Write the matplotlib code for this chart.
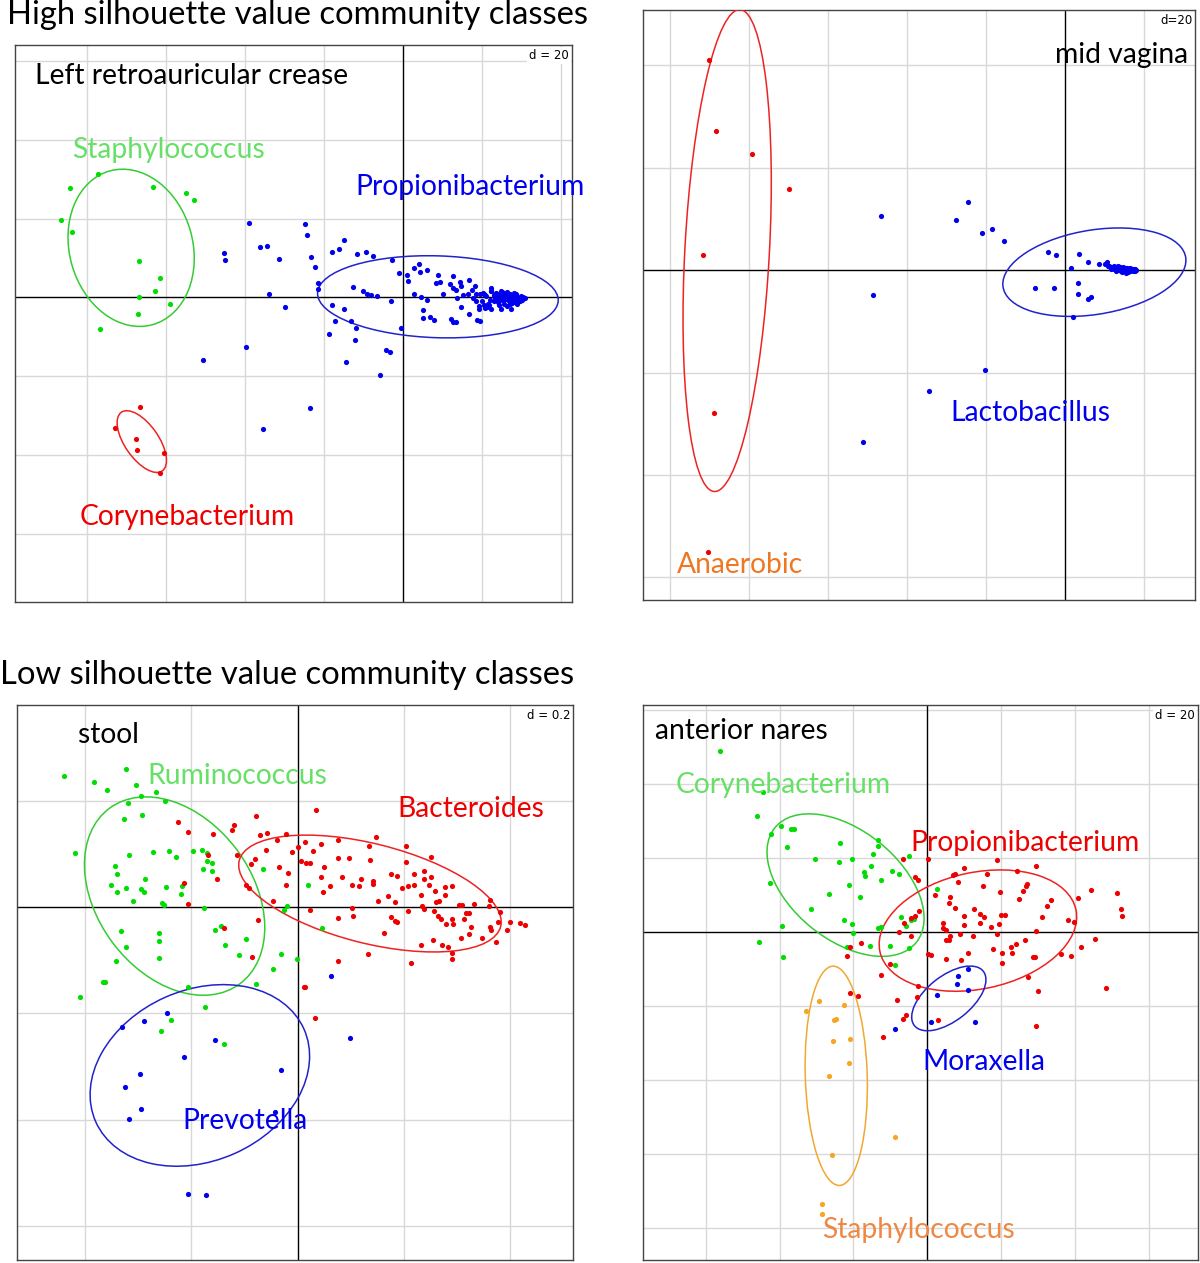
import numpy as np
import matplotlib
matplotlib.use('Agg')
import matplotlib.pyplot as plt
from matplotlib.patches import Ellipse

# Coordinates are in grid units (one grid cell = d)

# Left retroauricular crease (d = 20)
rac_staph = [(-4.21, 1.39), (-3.86, 1.56), (-3.16, 1.40), (-2.74, 1.32), (-2.64, 1.23),
             (-4.33, 0.98), (-4.19, 0.83), (-3.34, 0.46), (-3.08, 0.25), (-3.14, 0.08),
             (-3.34, 0.00), (-2.95, -0.08), (-3.35, -0.21), (-3.83, -0.40)]
rac_coryne = [(-3.33, -1.39), (-3.65, -1.65), (-3.38, -1.80), (-3.37, -1.93),
              (-3.03, -1.97), (-3.07, -2.22)]
rac_propi = [(-1.95, 0.94), (-2.27, 0.56), (-2.25, 0.48), (-1.81, 0.64), (-1.72, 0.65),
             (-1.57, 0.49), (-1.69, 0.05), (-1.49, -0.12), (-1.99, -0.63), (-2.53, -0.79),
             (-1.77, -1.67), (-1.24, 0.93), (-1.21, 0.79), (-1.16, 0.51), (-1.11, 0.38),
             (-1.07, 0.18), (-1.08, 0.11), (-0.90, 0.58), (-0.81, 0.62), (-0.75, 0.73),
             (-0.58, 0.55), (-0.47, 0.57), (-0.38, 0.53), (-0.14, 0.48), (-0.05, 0.31),
             (0.05, 0.28), (0.07, 0.21), (0.14, 0.37), (0.21, 0.32), (0.20, 0.43),
             (0.30, 0.35), (-0.63, 0.13), (-0.51, 0.08), (-0.46, 0.05), (-0.41, 0.03),
             (-0.33, 0.02), (-0.15, -0.05), (-0.90, -0.09), (-0.75, -0.15), (-0.86, -0.30),
             (-0.66, -0.30), (-0.59, -0.39), (-0.94, -0.46), (-0.61, -0.54), (-0.21, -0.66),
             (-0.16, -0.69), (-0.72, -0.82), (-0.29, -0.98), (-0.02, -0.39), (-1.18, -1.40),
             (0.14, 0.05), (0.23, 0.00), (0.31, -0.03), (0.25, -0.16), (0.25, -0.26),
             (0.34, -0.25), (0.39, -0.28), (0.44, 0.28), (0.42, 0.18), (0.47, 0.20),
             (0.51, 0.05), (0.63, 0.27), (0.60, 0.17), (0.64, 0.12), (0.67, 0.09),
             (0.69, -0.01), (0.72, 0.20), (0.73, 0.15), (0.84, 0.22), (0.91, 0.15),
             (0.87, 0.10), (0.76, 0.03), (0.82, 0.05), (0.73, -0.12), (0.84, -0.21),
             (0.61, -0.27), (0.64, -0.31), (0.67, -0.31), (0.94, -0.29), (0.98, -0.30),
             (0.89, -0.01), (0.93, 0.05), (0.97, 0.05), (1.01, 0.06), (1.04, 0.03),
             (0.92, -0.04), (0.96, -0.11), (1.03, -0.10), (1.07, -0.12), (1.11, -0.15),
             (1.09, -0.09), (0.96, -0.14), (1.11, 0.12), (1.12, 0.08), (1.17, 0.00),
             (1.19, 0.04), (1.24, 0.08), (1.25, 0.03), (1.28, 0.06), (1.32, 0.07),
             (1.36, 0.04), (1.41, 0.03), (1.45, 0.01), (1.49, -0.01), (1.55, -0.01),
             (1.31, 0.00), (1.35, -0.04), (1.39, -0.06), (1.43, -0.05), (1.47, -0.03),
             (1.36, -0.08), (1.22, -0.05), (1.24, -0.15), (1.37, -0.14), (1.15, -0.05),
             (1.04, -0.13), (1.02, 0.05), (1.20, -0.01), (1.27, -0.03), (1.41, -0.01),
             (1.51, -0.03)]
# samples hidden under the dense dots at the right end
rac_propi_dense = [(1.05, 0.02), (1.10, -0.03), (1.15, 0.03), (1.20, -0.06), (1.25, 0.01),
                   (1.30, -0.02), (1.35, 0.02), (1.40, -0.03), (1.45, 0.00), (1.50, 0.02),
                   (1.28, -0.08), (1.33, 0.05), (1.38, -0.07), (1.18, 0.06), (1.08, -0.08),
                   (1.43, 0.04), (1.48, -0.05), (1.22, -0.10), (1.12, 0.08), (1.32, -0.11),
                   (1.26, 0.07), (1.36, -0.01), (1.41, 0.06), (1.46, -0.02), (1.16, -0.01),
                   (1.21, 0.03), (1.30, 0.04), (1.34, -0.05), (1.39, 0.01), (1.44, -0.08),
                   (1.52, 0.00), (1.00, -0.04)]

# Mid vagina (d = 20)
vag_anaer = [(-4.51, 2.05), (-4.42, 1.36), (-3.96, 1.13), (-3.49, 0.79), (-4.58, 0.15),
             (-4.44, -1.39), (-4.52, -2.75)]
vag_lacto = [(-2.33, 0.53), (-2.43, -0.24), (-2.56, -1.68), (-1.22, 0.67), (-1.38, 0.49),
             (-1.05, 0.36), (-0.92, 0.40), (-0.77, 0.28), (-1.01, -0.97), (-1.72, -1.18),
             (-0.21, 0.18), (-0.11, 0.15), (0.18, 0.16), (0.08, 0.02), (0.30, 0.08),
             (0.43, 0.06), (0.53, 0.08), (-0.38, -0.17), (-0.14, -0.17), (0.17, -0.13),
             (0.17, -0.23), (0.30, -0.28), (0.33, -0.26), (0.10, -0.46),
             (0.51, 0.06), (0.56, 0.04), (0.59, 0.03), (0.62, 0.03), (0.65, 0.03),
             (0.68, 0.02), (0.70, 0.03), (0.73, 0.01), (0.77, 0.01), (0.80, 0.01),
             (0.83, 0.01), (0.86, 0.00), (0.89, 0.01), (0.59, 0.01), (0.72, 0.00),
             (0.78, -0.03), (0.82, -0.01), (0.76, -0.01)]
# samples stacked under the Lactobacillus-dominated cluster
vag_lacto_dense = [(0.55, 0.04), (0.58, 0.03), (0.60, 0.02), (0.62, 0.04), (0.64, 0.02),
                   (0.66, 0.03), (0.67, 0.01), (0.69, 0.02), (0.70, 0.00), (0.71, 0.02),
                   (0.72, 0.01), (0.73, 0.02), (0.74, 0.00), (0.75, 0.01), (0.76, 0.02),
                   (0.77, 0.00), (0.78, 0.01), (0.79, -0.01), (0.80, 0.00), (0.81, 0.01),
                   (0.82, 0.00), (0.83, -0.01), (0.84, 0.00), (0.85, 0.01), (0.86, -0.01),
                   (0.87, 0.00), (0.88, 0.00), (0.89, -0.01), (0.90, 0.00), (0.63, 0.01),
                   (0.68, 0.04), (0.71, -0.01), (0.74, 0.03), (0.77, 0.02), (0.80, -0.02),
                   (0.83, 0.02), (0.86, 0.01), (0.65, -0.01), (0.69, 0.00), (0.73, -0.02),
                   (0.76, 0.00), (0.79, 0.02), (0.81, -0.01), (0.84, 0.01)]

# Stool (d = 0.2)
st_rumino = [(-2.20, 1.23), (-1.92, 1.18), (-1.79, 1.10), (-1.61, 1.30), (-1.52, 1.15),
             (-1.47, 1.04), (-1.33, 1.08), (-1.25, 1.00), (-1.60, 0.98), (-1.63, 0.83),
             (-1.46, 0.87), (-2.09, 0.51), (-1.59, 0.49), (-1.36, 0.52), (-1.21, 0.53),
             (-1.14, 0.47), (-0.98, 0.53), (-0.90, 0.54), (-0.85, 0.51), (-0.85, 0.43),
             (-0.81, 0.41), (-0.89, 0.36), (-0.81, 0.34), (-1.72, 0.39), (-1.70, 0.31),
             (-1.76, 0.21), (-1.70, 0.14), (-1.61, 0.18), (-1.47, 0.17), (-1.44, 0.26),
             (-1.45, 0.14), (-1.55, 0.06), (-1.24, 0.19), (-1.09, 0.20), (-1.10, 0.12),
             (-1.28, 0.04), (-1.26, 0.02), (-0.88, -0.01), (-0.33, 0.36), (-0.13, -0.03),
             (-0.10, 0.01), (-1.66, -0.23), (-1.30, -0.24), (-1.30, -0.32), (-1.61, -0.38),
             (-1.30, -0.48), (-1.71, -0.51), (-0.78, -0.22), (-0.72, -0.18), (-0.68, -0.36),
             (-0.49, -0.30), (-0.55, -0.45), (-0.16, -0.44), (-0.23, -0.58), (-0.01, -0.49),
             (-0.39, -0.72), (-1.83, -0.71), (-1.81, -0.71), (-2.05, -0.85), (-1.03, -0.75),
             (-0.87, -0.94), (-1.19, -1.06), (-1.29, -1.17), (-0.69, -1.29), (0.10, 0.21),
             (0.23, -0.20)]
st_bactero = [(-0.39, 0.86), (-1.13, 0.80), (-1.03, 0.71), (-0.80, 0.69), (-0.62, 0.72),
              (-0.60, 0.77), (-0.35, 0.68), (-0.29, 0.70), (-0.19, 0.63), (-0.11, 0.69),
              (0.00, 0.56), (-0.05, 0.52), (0.03, 0.43), (-0.30, 0.54), (-0.40, 0.45),
              (-0.44, 0.40), (-0.18, 0.38), (-0.09, 0.32), (-0.11, 0.21), (-0.57, 0.49),
              (-0.84, 0.49), (-0.76, 0.26), (-0.49, 0.21), (-0.46, 0.18), (-1.07, 0.23),
              (-1.03, 0.03), (-0.23, 0.06), (-0.37, -0.12), (-0.69, -0.20), (-0.43, -0.47),
              (0.06, -0.75), (0.17, 0.91), (0.07, 0.61), (0.14, 0.53), (0.22, 0.59),
              (0.38, 0.63), (0.74, 0.66), (0.67, 0.57), (1.02, 0.57), (1.25, 0.47),
              (0.08, 0.41), (0.12, 0.41), (0.25, 0.38), (0.38, 0.46), (0.48, 0.46),
              (0.68, 0.44), (1.02, 0.42), (0.22, 0.28), (0.24, 0.14), (0.30, 0.20),
              (0.42, 0.28), (0.51, 0.21), (0.58, 0.20), (0.60, 0.26), (0.71, 0.24),
              (0.71, 0.22), (0.76, 0.06), (0.85, 0.10), (0.88, 0.31), (0.93, 0.29),
              (0.92, 0.05), (0.98, 0.18), (1.04, 0.20), (1.09, 0.31), (1.09, 0.21),
              (1.16, 0.11), (1.19, 0.26), (1.19, 0.34), (1.25, 0.28), (1.24, 0.21),
              (1.29, 0.15), (1.30, 0.05), (1.33, 0.06), (1.39, 0.11), (1.39, 0.19),
              (1.45, 0.20), (1.17, 0.01), (1.19, -0.02), (1.04, -0.04), (0.88, -0.09),
              (0.92, -0.13), (0.93, -0.14), (0.51, -0.01), (0.52, -0.08), (0.38, -0.10),
              (0.12, -0.03), (0.81, -0.24), (1.28, -0.04), (1.32, -0.08), (1.35, -0.11),
              (1.40, -0.16), (1.46, -0.16), (1.45, -0.11), (1.52, 0.02), (1.55, 0.02),
              (1.58, -0.06), (1.61, -0.06), (1.66, 0.03), (1.56, -0.11), (1.63, -0.19),
              (1.61, -0.25), (1.54, -0.29), (1.73, -0.29), (1.80, 0.01), (1.81, 0.07),
              (1.81, -0.19), (1.82, -0.22), (1.87, -0.33), (1.88, -0.14), (1.90, -0.05),
              (1.97, -0.22), (2.00, -0.14), (2.09, -0.15), (2.14, -0.17), (1.16, -0.36),
              (1.27, -0.31), (1.36, -0.36), (1.41, -0.38), (1.45, -0.43), (1.45, -0.49),
              (0.66, -0.44), (0.38, -0.51), (1.07, -0.53), (0.07, -0.75), (0.16, -1.04)]
st_prevo = [(-1.65, -1.13), (-1.45, -1.07), (-1.23, -1.00), (-0.78, -1.25), (-1.07, -1.41),
            (-1.48, -1.57), (-1.62, -1.69), (-1.47, -1.90), (-1.59, -1.99), (-0.16, -1.53),
            (-0.21, -1.93), (-1.03, -2.70), (-0.86, -2.71), (0.31, -0.65), (0.49, -1.23)]

# Anterior nares (d = 20)
na_coryne = [(-2.80, 2.45), (-2.23, 1.90), (-2.31, 1.57), (-2.12, 1.33), (-1.98, 1.43),
             (-1.84, 1.40), (-1.81, 1.40), (-1.90, 1.15), (-2.13, 0.66), (-1.52, 0.99),
             (-1.18, 1.20), (-1.20, 0.95), (-1.02, 0.99), (-1.33, 0.52), (-1.06, 0.64),
             (-0.91, 0.48), (-1.58, 0.31), (-1.13, 0.17), (-1.02, 0.11), (-1.01, -0.01),
             (-1.97, 0.08), (-0.67, 1.24), (-0.66, 1.16), (-0.73, 1.05), (-0.76, 0.90),
             (-0.86, 0.82), (-0.84, 0.76), (-0.63, 0.70), (-0.48, 0.83), (-0.38, 0.78),
             (-0.24, 1.03), (-0.36, 0.20), (-0.29, 0.09), (-0.62, 0.07), (-0.66, 0.05),
             (-0.77, -0.18), (-0.50, -0.19), (-0.24, -0.22), (-1.08, -0.20), (-0.44, -0.44),
             (-2.28, -0.13), (-1.95, -0.34), (0.14, 0.58), (-0.18, 0.18), (-0.22, 0.16)]
na_propi = [(-0.33, 0.99), (-0.17, 0.74), (-0.12, 0.71), (-0.11, 0.29), (-0.17, 0.22),
            (-0.22, 0.19), (-0.31, 0.12), (-0.22, -0.05), (-0.38, 0.00), (-0.90, -0.15),
            (-1.05, -0.20), (-1.09, -0.32), (-0.51, -0.43), (-0.62, -0.58), (-1.05, -0.82),
            (-0.94, -0.86), (-0.41, -0.91), (-0.13, -0.73), (-0.29, -1.12), (-0.33, -1.17),
            (-0.60, -1.42), (0.01, 0.99), (0.50, 0.87), (0.94, 0.98), (1.47, 0.90),
            (1.22, 0.83), (0.35, 0.77), (0.38, 0.78), (0.42, 0.68), (0.81, 0.78),
            (1.35, 0.65), (1.34, 0.63), (1.30, 0.56), (1.25, 0.45), (0.99, 0.54),
            (0.76, 0.62), (0.11, 0.50), (0.31, 0.47), (0.30, 0.39), (0.38, 0.33),
            (0.50, 0.22), (0.63, 0.32), (0.71, 0.25), (0.77, 0.21), (0.86, 0.07),
            (0.97, 0.11), (1.00, 0.23), (1.05, 0.23), (0.50, 0.10), (0.71, 0.13),
            (0.21, 0.12), (0.22, 0.06), (0.26, 0.03), (0.31, -0.05), (0.29, -0.11),
            (0.25, -0.10), (0.45, -0.03), (0.62, -0.05), (0.94, -0.03), (1.47, 0.01),
            (1.56, 0.21), (1.63, 0.36), (1.68, 0.44), (1.91, 0.16), (1.99, 0.14),
            (2.05, 0.46), (2.22, 0.57), (2.57, 0.53), (2.62, 0.31), (2.64, 0.22),
            (2.28, -0.09), (2.09, -0.20), (1.95, -0.32), (1.81, -0.30), (1.33, -0.10),
            (1.20, -0.16), (1.14, -0.20), (1.15, -0.28), (1.01, -0.28), (0.89, -0.23),
            (1.02, -0.41), (1.43, -0.33), (1.46, -0.33), (0.55, -0.28), (0.46, -0.38),
            (0.25, -0.36), (0.01, -0.30), (0.05, -0.31), (1.36, -0.61), (1.50, -0.79),
            (2.42, -0.75), (0.15, -1.18), (1.48, -1.27), (-0.14, -0.87)]
na_morax = [(0.56, -0.50), (0.42, -0.59), (0.41, -0.70), (0.55, -0.78), (0.14, -0.85),
            (0.05, -1.21), (0.65, -1.22), (-0.43, -1.31)]
na_staph = [(-1.47, -0.93), (-1.64, -1.06), (-1.12, -0.98), (-1.26, -1.19), (-1.24, -1.17),
            (-1.28, -1.47), (-1.05, -1.45), (-1.06, -1.77), (-1.33, -1.95), (-0.43, -2.77),
            (-1.29, -3.01), (-1.42, -3.67), (-1.42, -3.81)]

GREEN, GREEN_L, GREEN_T = '#00dd00', '#33cc33', '#66e066'
RED, RED_L = '#ee0000', '#ee2222'
BLUE, BLUE_L = '#0000ee', '#2222cc'
ORANGE, ORANGE_L, ORANGE_T = '#f5a623', '#f0a830', '#ee8844'

W, H = 1200, 1263
fig = plt.figure(figsize=(W / 100, H / 100), dpi=100)
FONT = 'Lato'


def box(x0, y0, x1, y1):
    return [x0 / W, 1 - y1 / H, (x1 - x0) / W, (y1 - y0) / H]


def ftext(x, y, s, color='black', size=20.3, ha='left'):
    fig.text(x / W, 1 - y / H, s, color=color, fontsize=size, ha=ha, va='center',
             family=FONT)


def class_ellipse(ax, pts, color, cellipse=1.5):
    xy = np.asarray(pts, float)
    m = xy.mean(axis=0)
    d = xy - m
    cov = d.T @ d / len(xy)
    vals, vecs = np.linalg.eigh(cov)
    ang = np.degrees(np.arctan2(vecs[1, 1], vecs[0, 1]))
    ax.add_patch(Ellipse(m, 2 * cellipse * np.sqrt(vals[1]), 2 * cellipse * np.sqrt(vals[0]),
                         angle=ang, fill=False, edgecolor=color, lw=1.1, zorder=3))


def panel(rect, xlim, ylim, groups, dlab):
    ax = fig.add_axes(rect)
    ax.set_xlim(xlim)
    ax.set_ylim(ylim)
    for v in range(int(np.ceil(xlim[0])), int(np.floor(xlim[1])) + 1):
        if v != 0:
            ax.axvline(v, color='#d8d8d8', lw=1, zorder=0)
    for v in range(int(np.ceil(ylim[0])), int(np.floor(ylim[1])) + 1):
        if v != 0:
            ax.axhline(v, color='#d8d8d8', lw=1, zorder=0)
    ax.axhline(0, color='black', lw=1, zorder=1)
    ax.axvline(0, color='black', lw=1, zorder=1)
    for pts, col, lcol in groups:
        xy = np.asarray(pts)
        ax.scatter(xy[:, 0], xy[:, 1], s=14, color=col, linewidths=0, zorder=4)
        class_ellipse(ax, pts, lcol)
    ax.set_xticks([])
    ax.set_yticks([])
    for sp in ax.spines.values():
        sp.set_color('#444444')
        sp.set_linewidth(1)
    ax.text(0.995, 0.993, dlab, transform=ax.transAxes, ha='right', va='top', fontsize=8.5,
            family='DejaVu Sans', zorder=6,
            bbox=dict(facecolor='white', edgecolor='none', pad=1.5))
    return ax


panel(box(15, 45, 572, 602), (-4.91, 2.14), (-3.86, 3.20),
      [(rac_staph, GREEN, GREEN_L), (rac_coryne, RED, RED_L),
       (rac_propi + rac_propi_dense, BLUE, BLUE_L)],
      'd = 20')
panel(box(643, 10, 1195, 600), (-5.34, 1.65), (-3.22, 2.54),
      [(vag_anaer, RED, RED_L), (vag_lacto + vag_lacto_dense, BLUE, BLUE_L)], 'd=20')
panel(box(17, 705, 573, 1260), (-2.64, 2.59), (-3.32, 1.90),
      [(st_rumino, GREEN, GREEN_L), (st_bactero, RED, RED_L), (st_prevo, BLUE, BLUE_L)],
      'd = 0.2')
panel(box(643, 705, 1198, 1260), (-3.85, 3.67), (-4.43, 3.07),
      [(na_coryne, GREEN, GREEN_L), (na_propi, RED, RED_L), (na_morax, BLUE, BLUE_L),
       (na_staph, ORANGE, ORANGE_L)], 'd = 20')

# section titles
ftext(7, 15, 'High silhouette value community classes', size=23.6)
ftext(0, 675, 'Low silhouette value community classes', size=23.6)

# panel labels
ftext(35, 76, 'Left retroauricular crease')
ftext(72, 150, 'Staphylococcus', GREEN_T)
ftext(355, 187, 'Propionibacterium', BLUE)
ftext(80, 517, 'Corynebacterium', RED)

ftext(1055, 55, 'mid vagina')
ftext(950, 413, 'Lactobacillus', BLUE)
ftext(677, 565, 'Anaerobic', '#ee7722')

ftext(78, 735, 'stool')
ftext(147, 776, 'Ruminococcus', GREEN_T)
ftext(397, 809, 'Bacteroides', RED)
ftext(182, 1121, 'Prevotella', BLUE)

ftext(655, 731, 'anterior nares')
ftext(676, 785, 'Corynebacterium', GREEN_T)
ftext(910, 843, 'Propionibacterium', RED)
ftext(922, 1062, 'Moraxella', BLUE)
ftext(822, 1230, 'Staphylococcus', ORANGE_T)

fig.savefig('out.png', dpi=100)
